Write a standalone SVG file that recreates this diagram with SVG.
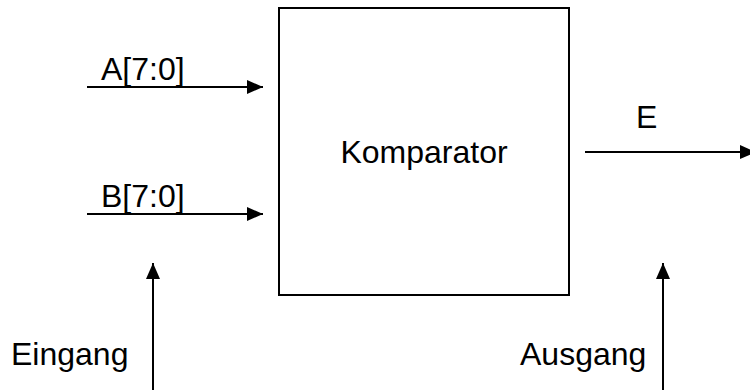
<svg xmlns="http://www.w3.org/2000/svg" width="750" height="390" viewBox="0 0 750 390">
  <style>
    .lbl { font-family: "Liberation Sans", Arial, sans-serif; font-size: 32px; fill: #000; }
    .wire { stroke: #000; stroke-width: 2; fill: none; }
    .box { stroke: #000; stroke-width: 2; fill: #fff; }
  </style>
  <defs>
    <marker id="arrow" viewBox="0 0 10 10" refX="10" refY="5" markerWidth="16" markerHeight="14" markerUnits="userSpaceOnUse" orient="auto" preserveAspectRatio="none">
      <path d="M0,0 L10,5 L0,10 Z" fill="#000"/>
    </marker>
  </defs>
  <rect width="750" height="390" fill="#fff"/>

  <g id="komparator">
    <rect class="box" x="279" y="8" width="290" height="287"/>
    <text class="lbl" x="424" y="163" text-anchor="middle">Komparator</text>
  </g>

  <g id="label-a"><text class="lbl" x="101" y="80">A[7:0]</text></g>
  <g id="label-b"><text class="lbl" x="101" y="207">B[7:0]</text></g>
  <g id="label-e"><text class="lbl" x="636" y="128">E</text></g>
  <g id="label-eingang"><text class="lbl" x="11" y="365">Eingang</text></g>
  <g id="label-ausgang"><text class="lbl" x="520" y="365">Ausgang</text></g>

  <g id="connectors">
    <line class="wire" x1="87" y1="87" x2="263" y2="87" marker-end="url(#arrow)"/>
    <line class="wire" x1="87" y1="214" x2="263" y2="214" marker-end="url(#arrow)"/>
    <line class="wire" x1="585" y1="152" x2="756" y2="152" marker-end="url(#arrow)"/>
    <line class="wire" x1="153" y1="390" x2="153" y2="263" marker-end="url(#arrow)"/>
    <line class="wire" x1="663" y1="390" x2="663" y2="263" marker-end="url(#arrow)"/>
  </g>
</svg>
